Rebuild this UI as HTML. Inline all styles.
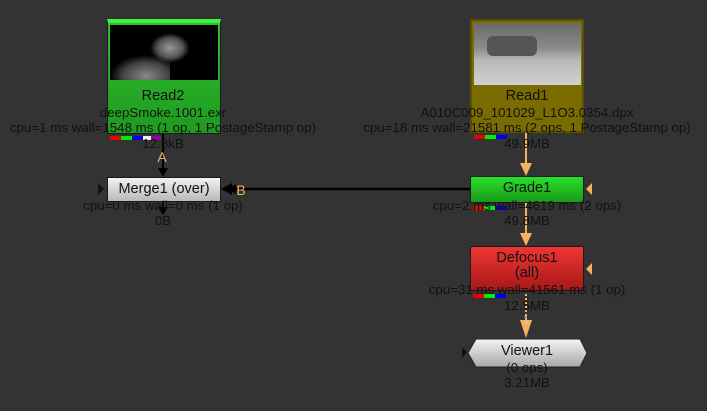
<!DOCTYPE html>
<html><head><meta charset="utf-8"><style>
html,body{margin:0;padding:0;}
body{width:707px;height:411px;background:#333333;position:relative;overflow:hidden;font-family:"Liberation Sans",sans-serif;color:#111;}
.n{position:absolute;box-sizing:border-box;border:1px solid #1a1a1a;}
.t{position:absolute;white-space:nowrap;font-size:13.3px;text-align:center;line-height:15px;transform:translateX(-50%);}
.nm{font-size:14.5px;}
.bars{position:absolute;height:4px;}
.bars span{display:inline-block;height:4px;width:11px;}
</style></head><body>
<svg width="707" height="411" style="position:absolute;left:0;top:0">
 <line x1="163" y1="133" x2="163" y2="170" stroke="#000" stroke-width="2"/>
 <polygon points="158,168 168,168 163,177" fill="#000"/>
 <line x1="163" y1="201" x2="163" y2="212" stroke="#000" stroke-width="2"/>
 <polygon points="158,207 168,207 163,215" fill="#000"/>
 <line x1="232" y1="189" x2="470" y2="189" stroke="#000" stroke-width="2.5"/>
 <polygon points="221,189 232,183 232,195" fill="#000"/>
 <polygon points="228,189 236,184 236,194" fill="#000"/>
 <polygon points="98,183 98,195 104,189" fill="#111"/>
 <line x1="526" y1="132" x2="526" y2="168" stroke="#f4b15e" stroke-width="2"/>
 <polygon points="520,163 532,163 526,176" fill="#f4b15e"/>
 <line x1="526" y1="202" x2="526" y2="238" stroke="#f4b15e" stroke-width="2"/>
 <polygon points="520,233 532,233 526,246" fill="#f4b15e"/>
 <line x1="526" y1="290" x2="526" y2="331" stroke="#f4b15e" stroke-width="2" stroke-dasharray="2,2"/>
 <polygon points="520,320 532,320 526,338" fill="#f4b15e"/>
 <polygon points="592,183 586,189 592,195" fill="#f4b15e"/>
 <polygon points="592,263 586,269 592,275" fill="#f4b15e"/>
 <polygon points="462,347 462,358 467,352" fill="#111"/>
 <defs><linearGradient id="vg" x1="0" y1="0" x2="0" y2="1"><stop offset="0" stop-color="#f4f4f4"/><stop offset="1" stop-color="#a8a8a8"/></linearGradient></defs>
 <polygon points="476,339 580,339 587,353 580,367 476,367 468,353" fill="url(#vg)" stroke="#222"/>
</svg>
<div class="n" style="left:107px;top:19px;width:114px;height:115px;background:linear-gradient(#30c030,#1f9a1f);border-top:4px solid #3df23d;">
 <div style="position:absolute;left:2px;top:2px;width:108px;height:55px;background:#000;overflow:hidden;">
  <div style="position:absolute;left:40px;top:8px;width:40px;height:30px;background:radial-gradient(ellipse at center,#999 0%,#555 45%,rgba(0,0,0,0) 70%);"></div>
  <div style="position:absolute;left:0px;top:30px;width:60px;height:30px;background:radial-gradient(ellipse at 60% 70%,#888 0%,#444 45%,rgba(0,0,0,0) 70%);"></div>
 </div>
</div>
<div class="bars" style="left:110px;top:127px"><span style="background:#e00"></span><span style="background:#0e0"></span><span style="background:#00e"></span><span style="background:#eee;width:8px"></span><span style="background:#90a;width:10px"></span></div>
<div class="t nm" style="left:163px;top:89px">Read2</div>
<div class="t" style="left:163px;top:105px">deepSmoke.1001.exr</div>
<div class="t" style="left:163px;top:120px">cpu=1 ms wall=1548 ms  (1 op, 1 PostageStamp op)</div>
<div class="t" style="left:163px;top:136px">12.8kB</div>
<div class="t" style="left:162px;top:150px;color:#f4b15e;font-size:14px">A</div>
<div class="n" style="left:470px;top:19px;width:114px;height:114px;background:#7a6c00;border:2px solid #5a5000;">
 <div style="position:absolute;left:2px;top:2px;width:107px;height:62px;background:linear-gradient(#6a6a6a 0%,#8a8a8a 40%,#b8b8b8 60%,#d0d0d0 100%);"></div>
 <div style="position:absolute;left:15px;top:15px;width:50px;height:20px;background:#555;border-radius:6px;"></div>
</div>
<div class="bars" style="left:474px;top:126px"><span style="background:#e00"></span><span style="background:#0e0"></span><span style="background:#00e"></span></div>
<div class="t nm" style="left:527px;top:89px">Read1</div>
<div class="t" style="left:527px;top:105px">A010C009_101029_L1O3.0354.dpx</div>
<div class="t" style="left:527px;top:120px">cpu=18 ms wall=21581 ms  (2 ops, 1 PostageStamp op)</div>
<div class="t" style="left:527px;top:136px">49.9MB</div>
<div class="n" style="left:107px;top:177px;width:114px;height:25px;background:linear-gradient(#f2f2f2,#b8b8b8);"></div>
<div class="t nm" style="left:164px;top:182px">Merge1 (over)</div>
<div class="t" style="left:163px;top:198px">cpu=0 ms wall=0 ms  (1 op)</div>
<div class="t" style="left:163px;top:213px">0B</div>
<div class="t" style="left:241px;top:183px;color:#f4b15e;font-size:14px">B</div>
<div class="n" style="left:470px;top:176px;width:114px;height:27px;background:linear-gradient(#28e028,#1a9a1a);"></div>
<div class="bars" style="left:473px;top:197px"><span style="background:#e00"></span><span style="background:#0e0"></span><span style="background:#00e"></span></div>
<div class="t nm" style="left:527px;top:181px">Grade1</div>
<div class="t" style="left:527px;top:198px">cpu=2 ms wall=4619 ms  (2 ops)</div>
<div class="t" style="left:527px;top:213px">49.8MB</div>
<div class="n" style="left:470px;top:246px;width:114px;height:45px;background:linear-gradient(#f03535,#a81818);"></div>
<div class="bars" style="left:473px;top:285px"><span style="background:#e00"></span><span style="background:#0e0"></span><span style="background:#00e"></span></div>
<div class="t nm" style="left:527px;top:251px">Defocus1</div>
<div class="t nm" style="left:527px;top:266px">(all)</div>
<div class="t" style="left:527px;top:282px">cpu=31 ms wall=41561 ms  (1 op)</div>
<div class="t" style="left:527px;top:298px">12.5MB</div>
<div class="t" style="left:526px;top:313px;color:#ccc;font-size:11px">1</div>
<div class="t nm" style="left:527px;top:344px">Viewer1</div>
<div class="t" style="left:527px;top:360px">(0 ops)</div>
<div class="t" style="left:527px;top:375px">3.21MB</div>
</body></html>
